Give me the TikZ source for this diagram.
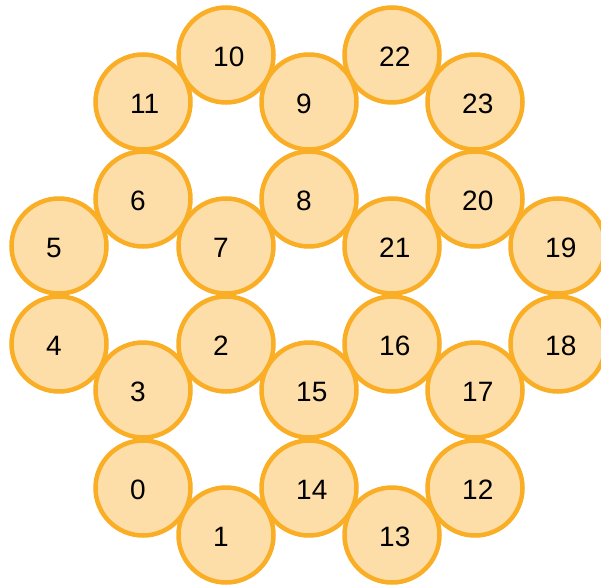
\documentclass[tikz,border=0pt]{standalone}
\usepackage{fontspec}
\setmainfont{Liberation Sans}
\definecolor{ringfill}{HTML}{FDDEA8}
\definecolor{ringline}{HTML}{F9AE26}
\begin{document}
\begin{tikzpicture}[x=1pt,y=-1pt,
  ring/.style={circle,draw=ringline,fill=ringfill,line width=4.5pt,minimum size=95pt,inner sep=0pt},
  num/.style={anchor=base west,inner sep=0pt,font=\fontsize{28}{32}\selectfont,text=black}]
\useasboundingbox (0,0) rectangle (601,585);
\clip (0,0) rectangle (601,585);
\foreach \n/\x/\y in {10/226/55,22/392/55,11/143/102,9/309/102,23/475/102,
  6/143/199,8/309/199,20/475/199,5/59/246,7/226/246,21/392/246,19/558/246,
  4/59/344,2/226/344,16/392/344,18/558/344,3/143/390,15/309/390,17/475/390,
  0/143/488,14/309/488,12/475/488,1/226/535,13/392/535}{
  \node[ring] (c\n) at (\x,\y) {};
  \node[num] (t\n) at ([xshift=-13pt,yshift=-11.5pt]c\n.center) {\n};
}
\end{tikzpicture}
\end{document}
